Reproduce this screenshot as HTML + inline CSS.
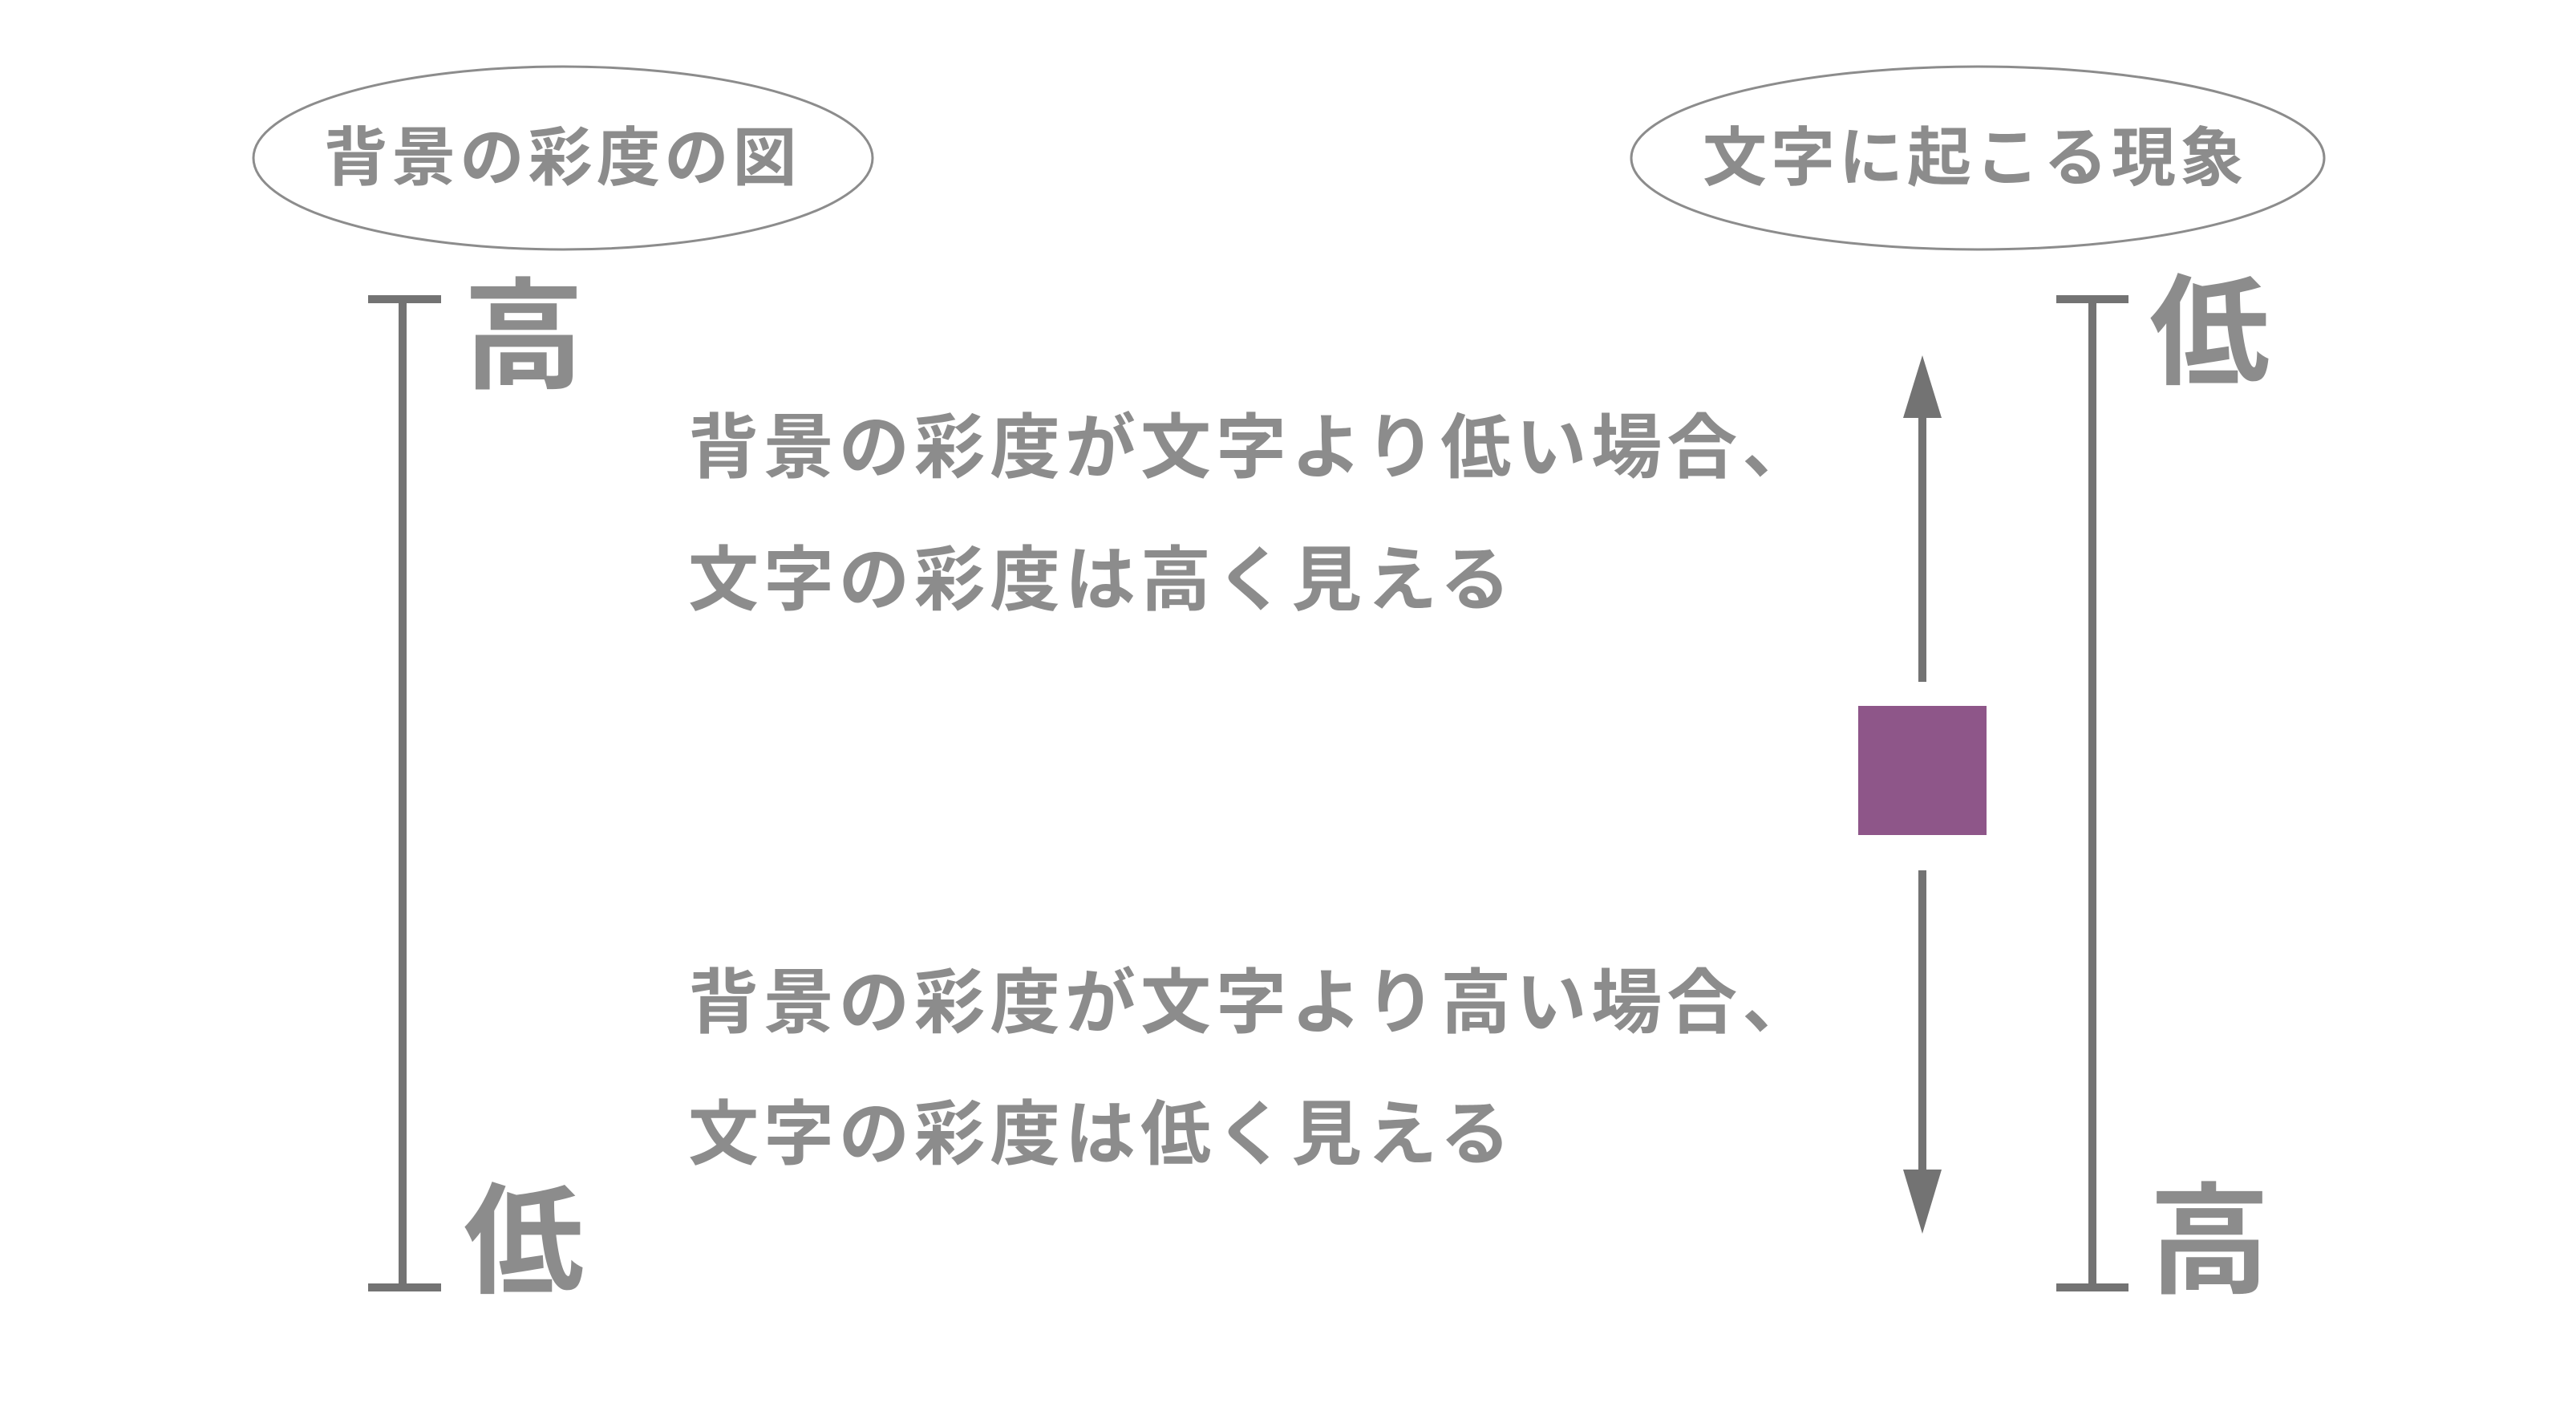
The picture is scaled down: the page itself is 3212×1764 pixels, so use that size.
<!DOCTYPE html>
<html><head><meta charset="utf-8"><style>
html,body{margin:0;padding:0;background:#fff;}
svg{display:block}
text{font-family:"Liberation Sans","Noto Sans CJK JP",sans-serif;font-weight:bold;fill:#8c8c8c;}
</style></head><body>
<svg width="3212" height="1764" viewBox="0 0 3212 1764" xmlns="http://www.w3.org/2000/svg">
<rect width="3212" height="1764" fill="#fff"/>
<ellipse cx="702" cy="197" rx="386" ry="114" fill="none" stroke="#8c8c8c" stroke-width="3"/>
<ellipse cx="2466" cy="197" rx="432" ry="114" fill="none" stroke="#8c8c8c" stroke-width="3"/>
<text x="701" y="197" font-size="80" text-anchor="middle" dominant-baseline="central" letter-spacing="5">背景の彩度の図</text>
<text x="2463" y="197" font-size="80" text-anchor="middle" dominant-baseline="central" letter-spacing="5">文字に起こる現象</text>
<g stroke="#737373" stroke-width="10" fill="none">
<line x1="502" y1="373" x2="502" y2="1605"/>
<line x1="459" y1="373" x2="550" y2="373"/>
<line x1="459" y1="1605" x2="550" y2="1605"/>
<line x1="2609" y1="373" x2="2609" y2="1605"/>
<line x1="2564" y1="373" x2="2654" y2="373"/>
<line x1="2564" y1="1605" x2="2654" y2="1605"/>
<line x1="2397" y1="515" x2="2397" y2="850"/>
<line x1="2397" y1="1085" x2="2397" y2="1466"/>
</g>
<polygon points="2397,443 2373,521 2421,521" fill="#737373"/>
<polygon points="2397,1538 2373,1458 2421,1458" fill="#737373"/>
<rect x="2317" y="880" width="160" height="161" fill="#8e5689"/>
<text x="578" y="420" font-size="150" dominant-baseline="central">高</text>
<text x="578" y="1548" font-size="150" dominant-baseline="central">低</text>
<text x="2680" y="415" font-size="150" dominant-baseline="central">低</text>
<text x="2680" y="1548" font-size="150" dominant-baseline="central">高</text>
<text x="858" y="558" font-size="88" dominant-baseline="central" letter-spacing="6">背景の彩度が文字より低い場合、</text>
<text x="858" y="723" font-size="88" dominant-baseline="central" letter-spacing="6">文字の彩度は高く見える</text>
<text x="858" y="1250" font-size="88" dominant-baseline="central" letter-spacing="6">背景の彩度が文字より高い場合、</text>
<text x="858" y="1414" font-size="88" dominant-baseline="central" letter-spacing="6">文字の彩度は低く見える</text>
</svg>
</body></html>
